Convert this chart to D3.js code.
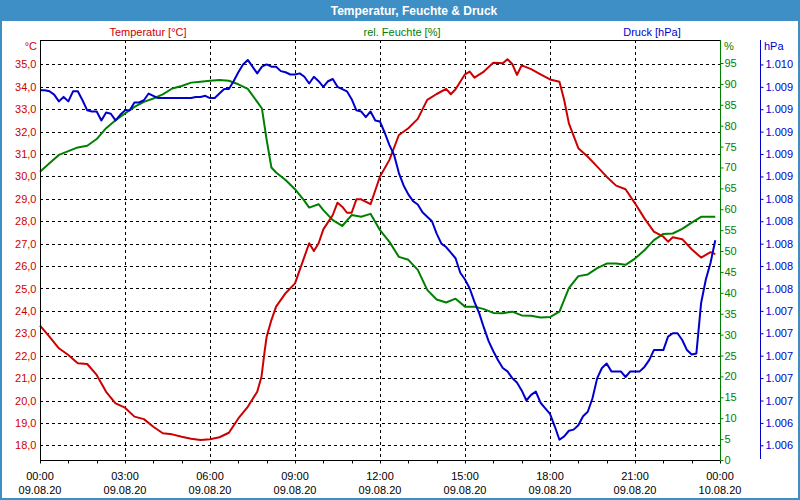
<!DOCTYPE html>
<html><head><meta charset="utf-8">
<script src="https://cdn.jsdelivr.net/npm/d3@7"></script>
<style>
html,body{margin:0;padding:0;background:#fff;}
svg{display:block;font-family:"Liberation Sans",Arial,sans-serif;}
</style></head>
<body>
<svg id="chart" width="800" height="500"></svg>
<script>
// ---- data ----
const tempMinutes = [0,20,40,60,80,100,120,140,160,180,200,220,240,260,280,300,320,340,360,380,400,420,440,460,469,476,480,490,500,520,540,560,570,580,590,600,620,630,640,650,660,670,680,700,720,740,760,780,800,820,840,860,870,880,900,910,920,940,960,980,990,1000,1010,1020,1040,1060,1080,1100,1110,1120,1140,1160,1180,1200,1220,1240,1260,1280,1300,1320,1330,1340,1360,1380,1400,1420,1430];
const tempValues = [23.34,22.85,22.33,22.03,21.66,21.63,21.14,20.39,19.87,19.68,19.28,19.17,18.83,18.54,18.49,18.38,18.29,18.24,18.27,18.36,18.56,19.20,19.72,20.39,21.06,22.25,22.85,23.59,24.19,24.79,25.23,26.42,27.02,26.67,27.02,27.64,28.28,28.83,28.65,28.38,28.38,28.98,28.98,28.76,30.00,30.74,31.85,32.15,32.57,33.42,33.68,33.91,33.67,33.89,34.56,34.68,34.41,34.68,35.08,35.05,35.23,35.02,34.53,34.96,34.79,34.56,34.33,34.23,33.41,32.37,31.26,30.88,30.44,29.99,29.59,29.43,28.80,28.13,27.54,27.31,27.09,27.29,27.20,26.75,26.38,26.62,26.53];

const humMinutes = [0,20,40,60,80,100,120,140,160,180,200,220,240,260,280,300,320,340,360,380,400,420,440,460,470,480,490,500,520,540,560,570,590,600,620,640,660,680,700,720,740,760,780,800,820,840,860,880,900,920,940,960,980,1000,1020,1040,1060,1080,1100,1120,1140,1160,1180,1200,1220,1240,1260,1280,1300,1320,1340,1360,1380,1400,1420,1430];
const humValues = [69.0,71.0,73.0,73.9,74.8,75.2,76.8,79.4,81.3,82.9,84.5,85.7,86.5,87.5,88.9,89.5,90.3,90.5,90.75,90.9,90.75,89.9,88.8,85.7,84.1,76.6,70.0,68.8,67.0,64.8,62.0,60.4,61.2,59.8,57.4,56.0,58.6,58.2,58.9,55.0,52.2,48.6,47.9,45.5,40.7,38.4,37.7,38.6,36.7,36.7,36.1,35.2,35.1,35.5,34.6,34.5,34.1,34.2,35.5,41.1,44.0,44.4,45.9,47.0,47.0,46.7,48.2,50.2,52.6,54.1,54.2,55.3,56.8,58.2,58.2,58.2];

// pressure, one reading every 10 minutes from 00:00 to 23:50
const pressureStartMinute = 0;
const pressureStepMinutes = 10;
const pressureValues = [
1009.37,1009.37,1009.36,1009.33,1009.27,1009.31,1009.27,1009.36,1009.36,1009.28,1009.19,1009.18,
1009.18,1009.10,1009.17,1009.16,1009.10,1009.15,1009.19,1009.19,1009.26,1009.26,1009.28,1009.34,
1009.32,1009.30,1009.30,1009.30,1009.30,1009.30,1009.30,1009.30,1009.30,1009.31,1009.31,1009.32,
1009.30,1009.30,1009.34,1009.38,1009.38,1009.45,1009.53,1009.60,1009.64,1009.58,1009.52,1009.58,
1009.60,1009.58,1009.58,1009.54,1009.53,1009.51,1009.51,1009.52,1009.49,1009.43,1009.49,1009.45,
1009.40,1009.45,1009.47,1009.40,1009.38,1009.36,1009.29,1009.19,1009.18,1009.13,1009.18,1009.10,
1009.09,1008.99,1008.88,1008.79,1008.63,1008.52,1008.44,1008.38,1008.35,1008.28,1008.24,1008.20,
1008.09,1008.00,1007.97,1007.92,1007.87,1007.74,1007.68,1007.60,1007.48,1007.38,1007.25,1007.13,
1007.04,1006.96,1006.89,1006.86,1006.80,1006.76,1006.69,1006.60,1006.65,1006.68,1006.58,1006.53,
1006.48,1006.37,1006.25,1006.28,1006.33,1006.34,1006.38,1006.46,1006.50,1006.62,1006.80,1006.89,
1006.93,1006.86,1006.86,1006.86,1006.81,1006.86,1006.86,1006.86,1006.90,1006.96,1007.05,1007.05,
1007.05,1007.17,1007.20,1007.20,1007.14,1007.05,1007.01,1007.02,1007.47,1007.68,1007.83,1008.03];

const tempTicks = [18,19,20,21,22,23,24,25,26,27,28,29,30,31,32,33,34,35];
const humTicks = [0,5,10,15,20,25,30,35,40,45,50,55,60,65,70,75,80,85,90,95];
const pressTicks = [1006.2,1006.4,1006.6,1006.8,1007.0,1007.2,1007.4,1007.6,1007.8,1008.0,1008.2,1008.4,1008.6,1008.8,1009.0,1009.2,1009.4,1009.6];
const xMajorTicks = [0,180,360,540,720,900,1080,1260,1440];
const xMinorTicks = d3.range(0,1441,60);
const xTimeLabels = ["00:00","03:00","06:00","09:00","12:00","15:00","18:00","21:00","00:00"];
const xDateLabels = ["09.08.20","09.08.20","09.08.20","09.08.20","09.08.20","09.08.20","09.08.20","09.08.20","10.08.20"];

const titleText = "Temperatur, Feuchte & Druck";
const seriesNames = ["Temperatur [°C]","rel. Feuchte [%]","Druck [hPa]"];
const unitNames = ["°C","%","hPa"];

// ---- styles ----
const RED = "#cc0000", GREEN = "#008000", BLUE = "#0000cc", FRAME = "#3d8fc6";
const L = 40, R = 720, T = 40, B = 460;

const de = d3.formatLocale({decimal:",", thousands:".", grouping:[3], currency:["","€"]});
const fmtT = de.format(",.1f");
const fmtP = de.format(",.0f");

const svg = d3.select("#chart");

// frame + title bar
svg.append("rect").attr("x",0).attr("y",0).attr("width",800).attr("height",500).attr("fill","#fff");
svg.append("rect").attr("x",0).attr("y",0).attr("width",800).attr("height",21).attr("fill",FRAME);
svg.append("rect").attr("x",1).attr("y",1).attr("width",798).attr("height",498)
  .attr("fill","none").attr("stroke",FRAME).attr("stroke-width",2);
svg.append("text").attr("x",414).attr("y",15).attr("text-anchor","middle")
  .attr("fill","#fff").attr("font-weight","bold").attr("font-size",12).text(titleText);

// scales
const x = d3.scaleLinear().domain([0,1440]).range([L,R]);
const yT = d3.scaleLinear().domain([17.345,36.09]).range([B,T]);
const yH = d3.scaleLinear().domain([0,100.5]).range([B,T]);
const yP = d3.scaleLinear().domain([1006.069,1009.818]).range([B,T]);

// grid
const grid = svg.append("g").attr("stroke","#000").attr("stroke-width",1).attr("stroke-dasharray","3,3");
grid.selectAll(".hg").data(tempTicks).join("line")
  .attr("x1",L).attr("x2",R)
  .attr("y1",d=>Math.round(yT(d))+0.5).attr("y2",d=>Math.round(yT(d))+0.5);
grid.selectAll(".vg").data(xMajorTicks.slice(1,-1)).join("line")
  .attr("x1",d=>Math.round(x(d))+0.5).attr("x2",d=>Math.round(x(d))+0.5)
  .attr("y1",T).attr("y2",B);

// series lines
function drawLine(pts, yScale, color){
  const line = d3.line().x(d=>x(d[0])).y(d=>yScale(d[1]));
  svg.append("path").datum(pts).attr("d",line).attr("fill","none")
    .attr("stroke",color).attr("stroke-width",2).attr("stroke-linejoin","round");
}
drawLine(humMinutes.map((m,i)=>[m,humValues[i]]), yH, GREEN);
drawLine(tempMinutes.map((m,i)=>[m,tempValues[i]]), yT, RED);
drawLine(pressureValues.map((v,i)=>[pressureStartMinute+i*pressureStepMinutes,v]), yP, BLUE);

// plot border top
svg.append("line").attr("x1",L).attr("x2",R).attr("y1",T+0.5).attr("y2",T+0.5).attr("stroke","#000");

// left axis (temperature)
const gL = svg.append("g").attr("transform",`translate(${L+0.5},0)`);
gL.call(d3.axisLeft(yT).tickValues(tempTicks).tickFormat(fmtT).tickSize(0).tickPadding(4));
gL.select(".domain").attr("stroke","#000").attr("d",`M0,${T}V${B+2}`);
gL.selectAll("text").attr("fill",RED).attr("font-size",11).attr("font-family","Liberation Sans, Arial, sans-serif");

// bottom axis
const gB = svg.append("g").attr("transform",`translate(0,${B+0.5})`);
gB.append("line").attr("x1",L).attr("x2",R).attr("stroke","#000");
gB.selectAll(".mt").data(xMinorTicks).join("line")
  .attr("x1",d=>Math.round(x(d))+0.5).attr("x2",d=>Math.round(x(d))+0.5)
  .attr("y1",0).attr("y2",3).attr("stroke","#000");
gB.selectAll(".tl").data(xMajorTicks).join("text")
  .attr("x",d=>x(d)).attr("y",19).attr("text-anchor","middle").attr("font-size",11).attr("fill","#000")
  .text((d,i)=>xTimeLabels[i]);
gB.selectAll(".dl").data(xMajorTicks).join("text")
  .attr("x",d=>x(d)).attr("y",33.5).attr("text-anchor","middle").attr("font-size",11).attr("fill","#000")
  .text((d,i)=>xDateLabels[i]);

// right axis (humidity)
const gH = svg.append("g").attr("transform",`translate(${R+0.5},0)`);
gH.call(d3.axisRight(yH).tickValues(humTicks).tickFormat(d3.format("d")).tickSize(3).tickPadding(1));
gH.select(".domain").attr("stroke",GREEN).attr("d",`M0,${T}V${B}`);
gH.selectAll(".tick line").attr("stroke",GREEN);
gH.selectAll("text").attr("fill",GREEN).attr("font-size",11).attr("font-family","Liberation Sans, Arial, sans-serif");

// far right axis (pressure)
const gP = svg.append("g").attr("transform",`translate(760.5,0)`);
gP.call(d3.axisRight(yP).tickValues(pressTicks).tickFormat(fmtP).tickSize(3).tickPadding(2));
gP.select(".domain").attr("stroke",BLUE).attr("d",`M0,${T}V${B-1}`);
gP.selectAll(".tick line").attr("stroke",BLUE);
gP.selectAll("text").attr("fill",BLUE).attr("font-size",11).attr("font-family","Liberation Sans, Arial, sans-serif");

// units
svg.append("text").attr("x",37).attr("y",50).attr("text-anchor","end").attr("font-size",11).attr("fill",RED).text(unitNames[0]);
svg.append("text").attr("x",724).attr("y",50).attr("font-size",11).attr("fill",GREEN).text(unitNames[1]);
svg.append("text").attr("x",764).attr("y",50).attr("font-size",11).attr("fill",BLUE).text(unitNames[2]);

// series titles
const legendX = [148,402,652], legendC = [RED,GREEN,BLUE];
seriesNames.forEach((n,i)=>{
  svg.append("text").attr("x",legendX[i]).attr("y",36).attr("text-anchor","middle")
    .attr("font-size",11).attr("fill",legendC[i]).text(n);
});
</script>
</body></html>
